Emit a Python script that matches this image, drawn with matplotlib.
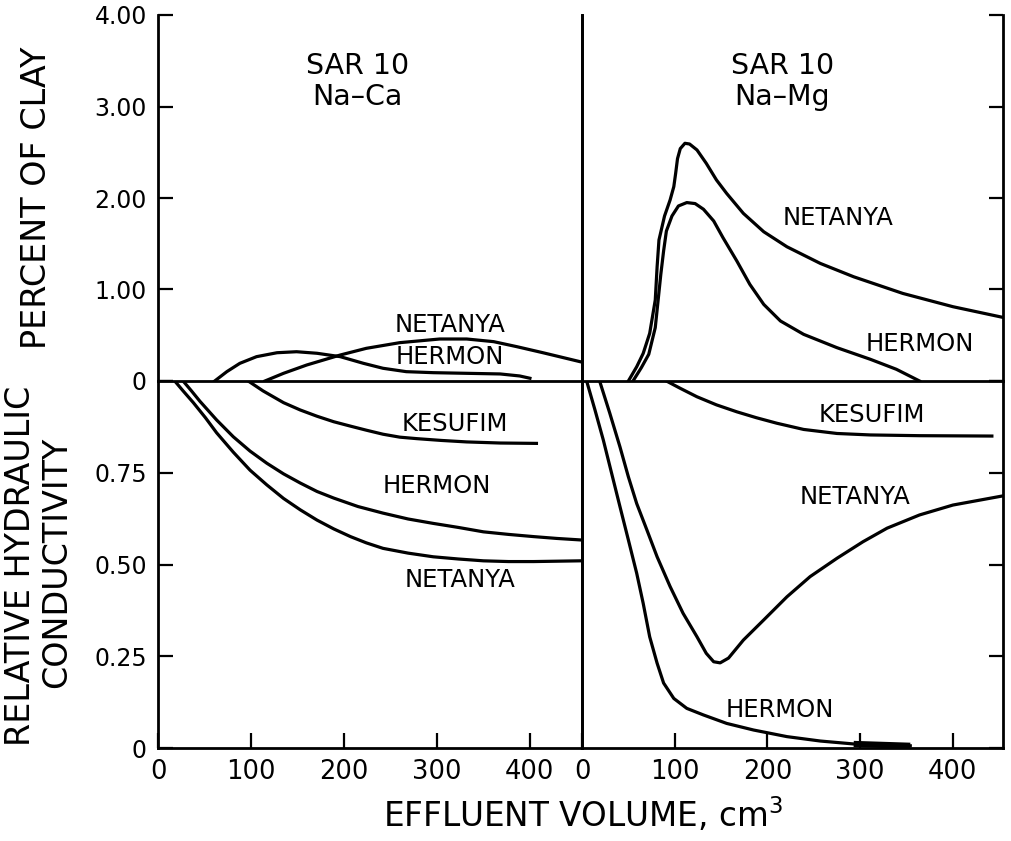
import numpy as np
import matplotlib
matplotlib.use("Agg")
import matplotlib.pyplot as plt

# ---- data (effluent volume in cm3) ----
# percent of clay in effluent, Na-Ca
ca_clay_netanya_x = [115, 135, 160, 196, 224, 260, 303, 332, 361, 386, 414, 454]
ca_clay_netanya_y = [0, 0.084, 0.175, 0.284, 0.357, 0.419, 0.459, 0.459, 0.43, 0.375, 0.309, 0.211]
ca_clay_hermon_x = [61, 74, 88, 106, 128, 149, 171, 196, 221, 242, 267, 296, 332, 368, 389, 400]
ca_clay_hermon_y = [0, 0.102, 0.193, 0.266, 0.309, 0.32, 0.303, 0.266, 0.193, 0.139, 0.102, 0.091, 0.084, 0.077, 0.055, 0.03]

# relative hydraulic conductivity, Na-Ca
ca_k_kesufim_x = [97, 113, 135, 153, 171, 189, 207, 224, 242, 260, 278, 305, 332, 368, 407]
ca_k_kesufim_y = [1.0, 0.973, 0.941, 0.921, 0.904, 0.889, 0.877, 0.866, 0.855, 0.847, 0.843, 0.838, 0.834, 0.831, 0.83]
ca_k_hermon_x = [27, 36, 45, 63, 81, 99, 117, 135, 153, 171, 189, 215, 242, 269, 296, 323, 350, 377, 404, 429, 454]
ca_k_hermon_y = [1.0, 0.973, 0.945, 0.894, 0.848, 0.809, 0.776, 0.747, 0.722, 0.699, 0.681, 0.658, 0.64, 0.624,
                 0.612, 0.601, 0.589, 0.582, 0.576, 0.571, 0.567]
ca_k_netanya_x = [18, 27, 38, 51, 63, 81, 99, 117, 135, 153, 171, 189, 207, 224, 242, 269, 296, 323, 350, 377,
                  404, 429, 454]
ca_k_netanya_y = [1.0, 0.973, 0.941, 0.9, 0.859, 0.806, 0.757, 0.717, 0.68, 0.649, 0.621, 0.597, 0.576, 0.559,
                  0.544, 0.531, 0.521, 0.515, 0.51, 0.508, 0.508, 0.509, 0.51]

# percent of clay in effluent, Na-Mg
mg_clay_netanya_x = [50, 59, 66, 73, 79, 81, 83, 89, 95, 99, 101, 103, 106, 111, 116, 124, 134, 145, 156, 174,
                     196, 221, 257, 293, 346, 400, 454]
mg_clay_netanya_y = [0, 0.156, 0.302, 0.521, 0.885, 1.249, 1.541, 1.803, 1.978, 2.124, 2.27, 2.43, 2.54, 2.598,
                     2.59, 2.525, 2.379, 2.197, 2.05, 1.832, 1.631, 1.467, 1.285, 1.139, 0.957, 0.812, 0.695]
mg_clay_hermon_x = [55, 64, 72, 79, 82, 85, 88, 91, 97, 104, 113, 122, 131, 142, 152, 167, 181, 196, 214, 239,
                    275, 311, 339, 364]
mg_clay_hermon_y = [0, 0.146, 0.292, 0.583, 0.874, 1.166, 1.421, 1.639, 1.803, 1.913, 1.95, 1.939, 1.877, 1.749,
                    1.567, 1.311, 1.056, 0.837, 0.656, 0.51, 0.364, 0.237, 0.128, 0]

# relative hydraulic conductivity, Na-Mg
mg_k_kesufim_x = [91, 106, 124, 145, 167, 188, 210, 239, 275, 311, 364, 442]
mg_k_kesufim_y = [1.0, 0.98, 0.957, 0.935, 0.916, 0.9, 0.885, 0.868, 0.857, 0.853, 0.851, 0.85]
mg_k_netanya_x = [19, 30, 41, 50, 59, 70, 81, 95, 109, 124, 134, 142, 149, 158, 174, 196, 221, 246, 275, 303,
                  329, 364, 400, 454]
mg_k_netanya_y = [1.0, 0.912, 0.82, 0.739, 0.666, 0.594, 0.521, 0.44, 0.367, 0.303, 0.258, 0.235, 0.232, 0.245,
                  0.294, 0.349, 0.412, 0.467, 0.517, 0.562, 0.599, 0.635, 0.662, 0.687]
mg_k_hermon_x = [5, 14, 23, 32, 41, 50, 59, 66, 73, 81, 88, 99, 113, 131, 156, 185, 221, 257, 293, 354]
mg_k_hermon_y = [1.0, 0.921, 0.839, 0.748, 0.657, 0.567, 0.476, 0.394, 0.303, 0.231, 0.177, 0.135, 0.108, 0.09,
                 0.067, 0.049, 0.031, 0.019, 0.011, 0.006]

x_ticks = [0, 100, 200, 300, 400]
clay_ticks = [0, 1, 2, 3, 4]
clay_labels = ["0", "1.00", "2.00", "3.00", "4.00"]
k_ticks = [0, 0.25, 0.5, 0.75, 1.0]
k_labels = ["0", "0.25", "0.50", "0.75", ""]

LW = 2.3
SPW = 2.0
FIG_W, FIG_H = 1011, 841

plt.rcParams["font.family"] = "DejaVu Sans"

fig = plt.figure(figsize=(FIG_W / 100, FIG_H / 100), dpi=100)


def frac(px0, py0, px1, py1):
    return [px0 / FIG_W, 1 - py1 / FIG_H, (px1 - px0) / FIG_W, (py1 - py0) / FIG_H]


ax_ul = fig.add_axes(frac(158, 15, 582, 381))
ax_ur = fig.add_axes(frac(582, 15, 1003, 381))
ax_ll = fig.add_axes(frac(158, 381, 582, 748))
ax_lr = fig.add_axes(frac(582, 381, 1003, 748))

for ax in (ax_ul, ax_ur, ax_ll, ax_lr):
    ax.set_facecolor("none")
    ax.spines["top"].set_visible(False)
    for s in ("left", "right", "bottom"):
        ax.spines[s].set_linewidth(SPW)
    ax.tick_params(direction="in", width=1.6, length=11, colors="black")

ax_ul.set_xlim(0, 456)
ax_ll.set_xlim(0, 456)
ax_ur.set_xlim(0, 454)
ax_lr.set_xlim(0, 454)
for ax in (ax_ul, ax_ur):
    ax.set_ylim(0, 4)
    ax.set_yticks(clay_ticks)
    ax.tick_params(axis="x", bottom=False, labelbottom=False)
for ax in (ax_ll, ax_lr):
    ax.set_ylim(0, 1)
    ax.set_yticks(k_ticks)
    ax.set_xticks(x_ticks)
    ax.set_xticklabels([str(v) for v in x_ticks])
    ax.tick_params(axis="x", labelsize=18.5, pad=8)

ax_ul.set_yticklabels(clay_labels)
ax_ll.set_yticklabels(k_labels)
for ax in (ax_ul, ax_ll):
    ax.tick_params(axis="y", labelsize=17, pad=8)
for ax in (ax_ur, ax_lr):
    ax.tick_params(axis="y", left=False, right=True, labelleft=False, length=10)

# curves
ax_ul.plot(ca_clay_netanya_x, ca_clay_netanya_y, color="black", lw=LW)
ax_ul.plot(ca_clay_hermon_x, ca_clay_hermon_y, color="black", lw=LW)
ax_ll.plot(ca_k_kesufim_x, ca_k_kesufim_y, color="black", lw=LW)
ax_ll.plot(ca_k_hermon_x, ca_k_hermon_y, color="black", lw=LW)
ax_ll.plot(ca_k_netanya_x, ca_k_netanya_y, color="black", lw=LW)

ax_ur.plot(mg_clay_netanya_x, mg_clay_netanya_y, color="black", lw=LW)
ax_ur.plot(mg_clay_hermon_x, mg_clay_hermon_y, color="black", lw=LW)
ax_lr.plot(mg_k_kesufim_x, mg_k_kesufim_y, color="black", lw=LW)
ax_lr.plot(mg_k_netanya_x, mg_k_netanya_y, color="black", lw=LW)
ax_lr.plot(mg_k_hermon_x, mg_k_hermon_y, color="black", lw=LW)
# heavier tail of the Hermon curve
hx = np.array(mg_k_hermon_x)
hy = np.array(mg_k_hermon_y)
ax_lr.plot(hx[hx >= 293], hy[hx >= 293], color="black", lw=4.5, solid_capstyle="butt")

# panel titles
lab = dict(ha="center", va="center", fontsize=20.5)
ax_ul.text(215, 3.44, "SAR 10", **lab)
ax_ul.text(215, 3.10, "Na\u2013Ca", **lab)
ax_ur.text(216, 3.44, "SAR 10", **lab)
ax_ur.text(216, 3.10, "Na\u2013Mg", **lab)

# curve labels
cl = dict(ha="center", va="center", fontsize=17.5)
ax_ul.text(314, 0.61, "NETANYA", **cl)
ax_ul.text(314, 0.26, "HERMON", **cl)
ax_ll.text(319, 0.883, "KESUFIM", **cl)
ax_ll.text(300, 0.714, "HERMON", **cl)
ax_ll.text(325, 0.458, "NETANYA", **cl)
ax_ur.text(276, 1.78, "NETANYA", **cl)
ax_ur.text(364, 0.40, "HERMON", **cl)
ax_lr.text(313, 0.907, "KESUFIM", **cl)
ax_lr.text(294, 0.684, "NETANYA", **cl)
ax_lr.text(213, 0.104, "HERMON", **cl)

# axis titles
fig.text(37 / FIG_W, 1 - 198 / FIG_H, "PERCENT OF CLAY", rotation=90,
         ha="center", va="center", fontsize=24)
fig.text(21 / FIG_W, 1 - 566 / FIG_H, "RELATIVE HYDRAULIC", rotation=90,
         ha="center", va="center", fontsize=24)
fig.text(57 / FIG_W, 1 - 562 / FIG_H, "CONDUCTIVITY", rotation=90,
         ha="center", va="center", fontsize=24)
fig.text(583 / FIG_W, 1 - 815 / FIG_H, "EFFLUENT VOLUME, cm$^3$",
         ha="center", va="center", fontsize=23.5)

fig.savefig("out.png", dpi=100)
